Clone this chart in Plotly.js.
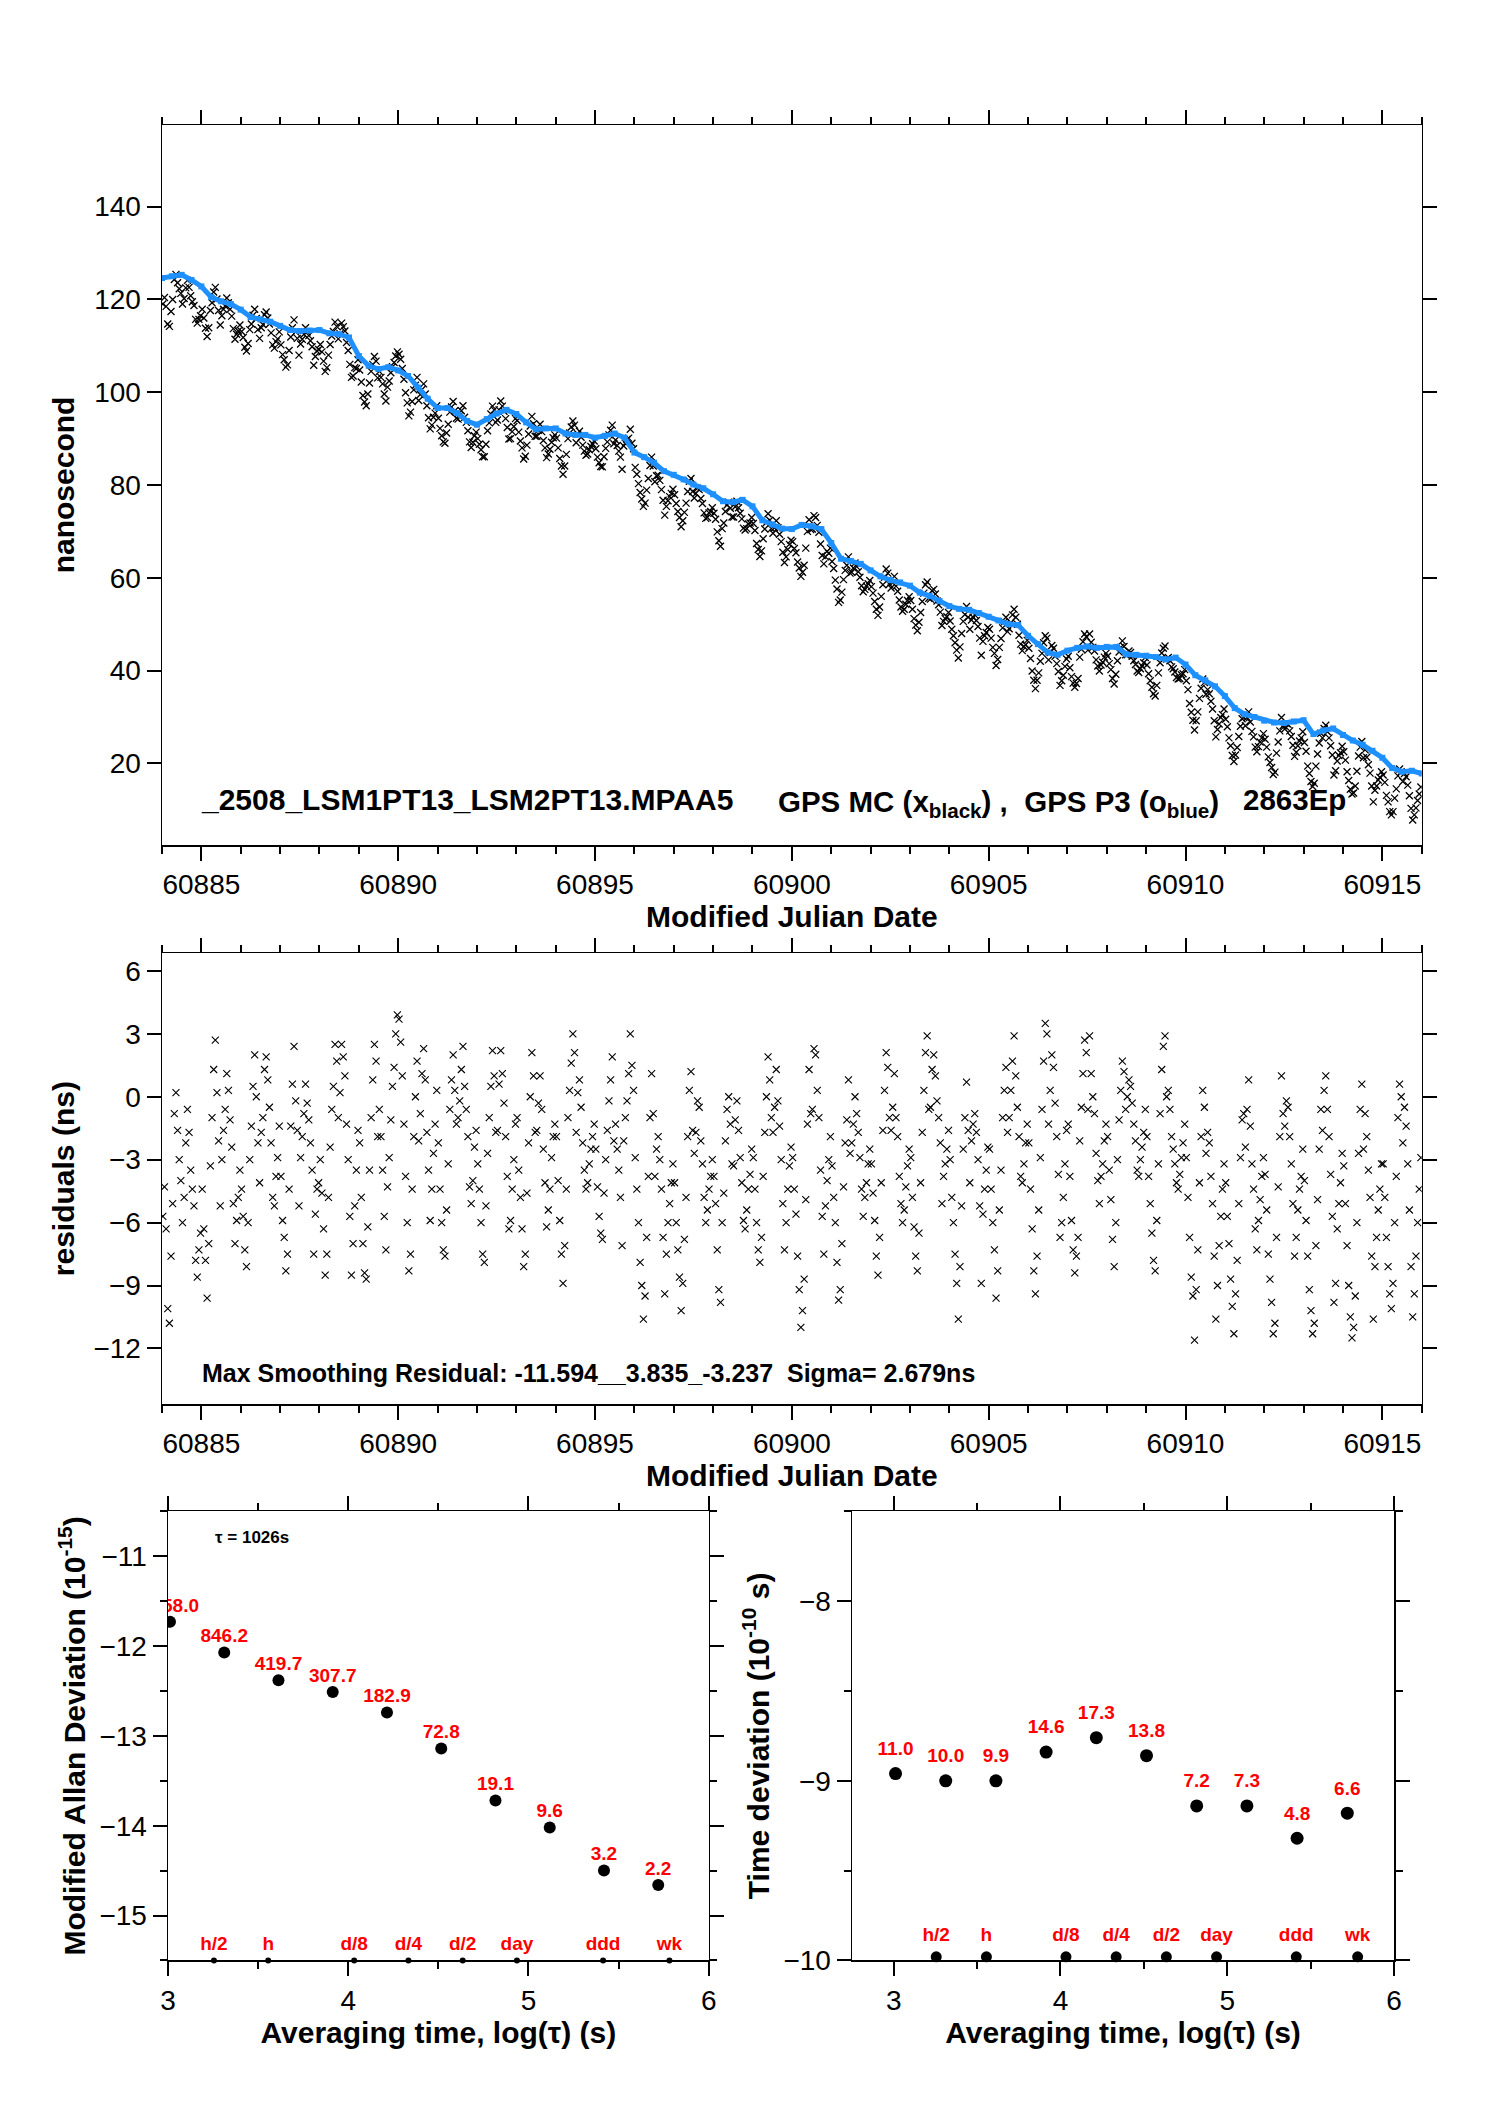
<!DOCTYPE html>
<html><head><meta charset="utf-8">
<script src="https://cdn.plot.ly/plotly-3.0.1.min.js"></script>
<style>html,body{margin:0;padding:0;background:#fff}#chart{width:1488px;height:2105px}</style>
</head><body><div id="chart"></div>
<script>
// ---------------- data ----------------
const mjdStart = 60884;
// GPS P3 (blue), one reading every 0.25 day from MJD 60884.0
const blueStepDay = 0.25;
const blueY = [124.6,125.0,125.3,124.2,122.8,120.5,119.6,119.0,117.8,116.2,115.7,115.2,114.3,113.4,113.2,113.3,
113.4,112.7,112.5,111.8,107.8,105.7,105.0,105.4,104.7,103.5,101.0,98.6,96.6,96.6,95.5,93.8,
93.0,94.2,95.4,96.2,95.3,93.5,92.0,92.2,92.2,91.1,90.8,90.8,90.2,90.6,91.1,90.2,
87.0,86.0,84.8,83.0,82.2,81.2,80.1,79.3,78.0,76.5,76.3,76.8,75.4,72.4,71.5,70.6,
70.5,71.4,71.1,70.5,67.5,64.1,63.6,63.0,61.6,60.3,59.5,59.0,58.3,56.8,56.1,55.0,
53.9,53.3,53.1,52.4,51.6,50.8,50.0,49.8,47.5,45.7,43.9,43.4,44.3,44.9,45.2,44.9,
45.1,45.1,43.5,43.4,43.2,42.9,42.4,42.8,41.3,39.0,37.9,36.6,34.5,31.9,30.6,30.0,
29.2,28.8,28.7,29.0,29.3,26.3,27.1,27.5,26.1,24.9,24.0,22.7,21.2,19.0,18.2,18.4,17.8];
// GPS MC (black), 24 epochs per day from MJD 60884.0 (12 per row = half a day)
const blackPerDay = 24;
const blackY = [
119.0,120.4,118.5,114.7,114.2,117.4,120.0,124.3,125.4,123.6,122.3,121.3,
119.0,120.2,122.5,124.1,122.6,120.8,119.5,118.7,115.7,114.9,115.7,116.5,
117.9,116.0,113.8,112.0,113.9,117.6,119.3,121.6,122.6,120.1,117.6,114.5,
116.5,117.9,118.6,120.3,119.3,117.9,116.4,113.7,111.4,112.5,113.2,114.5,
113.1,111.8,109.7,108.9,110.5,113.5,114.7,116.6,117.9,115.9,113.5,111.6,
113.9,114.6,116.7,117.3,116.0,114.7,112.8,110.2,109.5,110.9,111.5,113.0,
110.2,108.1,107.0,105.4,105.9,109.0,111.9,113.9,115.6,113.0,111.6,108.0,
110.4,111.4,112.5,113.9,113.0,112.2,111.1,109.8,105.8,107.7,108.9,109.2,
110.3,108.7,106.7,104.5,105.3,108.0,110.3,112.1,113.1,115.1,114.2,111.5,
112.6,114.9,114.1,113.2,110.7,109.0,106.0,103.2,103.5,105.3,105.1,107.0,
104.8,102.2,99.3,97.9,97.1,99.6,102.0,104.5,106.0,107.7,106.7,103.1,
104.5,103.2,101.8,99.6,98.1,101.1,102.4,104.2,105.5,106.4,107.8,108.7,
108.2,107.1,105.1,102.8,99.9,97.7,94.9,95.7,98.0,100.5,101.5,103.2,
98.2,99.5,100.6,101.8,99.6,97.1,94.5,92.1,92.9,94.6,95.5,97.1,
94.4,92.2,90.6,89.3,89.0,91.2,93.1,95.7,96.8,98.0,96.0,94.4,
94.2,95.0,96.0,97.1,94.6,93.5,91.7,89.3,88.1,89.2,90.6,91.4,
90.0,88.8,87.6,86.1,86.1,88.8,91.7,93.4,95.3,97.0,96.2,93.5,
94.0,96.2,98.1,97.0,95.9,94.3,92.4,89.9,90.0,91.5,92.6,94.3,
93.9,91.4,89.5,88.0,85.6,86.2,88.6,91.0,92.7,94.8,93.2,90.5,
90.5,91.8,93.1,91.5,89.6,88.0,85.9,86.7,87.7,89.2,90.2,90.8,
90.1,88.0,85.7,84.1,82.3,84.1,86.6,90.0,91.2,92.5,93.8,92.9,
89.1,91.0,91.6,90.3,88.6,87.3,86.4,86.7,87.6,88.3,88.9,89.5,
87.8,86.0,84.8,84.0,83.9,86.1,87.9,89.3,90.8,91.8,92.9,88.9,
89.7,88.5,87.3,86.0,83.4,88.4,89.0,89.8,90.1,92.0,89.0,87.8,
83.8,82.3,80.3,78.4,77.0,75.4,76.1,78.9,81.4,84.2,86.0,84.1,
80.7,82.0,82.1,81.0,79.0,76.7,73.5,75.4,76.6,77.5,78.2,79.1,
77.9,76.0,74.3,73.0,71.0,72.3,74.1,76.1,78.6,80.8,81.4,78.6,
77.2,78.2,79.3,79.0,77.1,76.0,74.0,72.8,73.0,74.0,74.3,75.1,
73.9,72.6,69.9,68.0,66.8,70.6,71.8,74.3,75.7,76.3,75.0,73.1,
73.1,75.3,76.5,75.1,73.9,72.7,70.7,70.3,70.6,71.6,71.8,73.0,
71.7,70.2,67.4,66.1,64.6,65.8,68.4,70.5,71.9,73.8,72.4,70.6,
69.6,70.8,72.3,70.8,69.4,67.8,65.5,63.3,64.5,66.1,67.2,68.1,
67.8,66.3,65.4,63.4,62.1,60.3,61.2,62.7,66.4,70.0,72.5,70.4,
70.5,73.4,73.0,71.3,69.8,67.3,64.8,63.0,64.5,65.7,65.3,66.4,
63.5,62.0,59.5,57.6,54.7,55.2,56.9,59.6,61.6,62.7,64.5,61.0,
61.2,62.1,63.2,62.4,61.3,60.1,58.3,57.0,57.5,58.2,58.7,59.4,
58.1,56.7,54.9,53.2,51.9,53.7,56.0,58.5,60.1,61.9,61.0,58.6,
57.8,58.9,60.3,58.2,57.1,55.2,53.7,52.8,53.2,54.3,55.1,55.9,
55.1,53.2,51.2,49.8,48.6,50.4,52.5,54.9,56.7,58.5,59.1,55.6,
55.4,57.2,57.5,56.5,55.0,54.2,52.6,49.7,50.6,51.2,51.6,52.5,
50.7,48.9,47.5,46.0,44.4,42.7,45.1,48.0,50.6,52.1,53.8,51.5,
48.9,50.9,51.5,52.0,50.8,49.5,47.0,43.3,46.3,47.5,48.2,49.3,
48.9,47.0,45.0,43.7,41.1,42.4,45.0,46.9,49.2,50.5,51.5,48.4,
49.0,50.3,52.0,53.2,51.5,50.0,47.6,45.7,44.3,45.2,45.6,46.5,
44.8,42.6,39.9,37.9,36.1,37.9,39.5,42.0,43.7,46.0,47.5,47.0,
42.3,43.9,45.4,44.8,43.1,41.5,39.8,36.8,37.8,39.0,40.9,42.5,
43.1,40.6,38.7,37.3,36.4,37.2,38.3,42.9,44.6,46.2,47.9,47.3,
44.4,47.9,46.1,45.0,44.2,42.3,41.0,39.9,41.2,41.8,42.9,43.7,
43.1,41.5,40.2,38.3,37.1,39.2,42.1,44.0,45.0,46.4,45.2,43.4,
43.4,44.2,43.9,43.1,42.1,41.3,39.9,39.6,40.4,41.0,41.7,42.8,
41.2,39.3,37.8,36.4,35.0,34.5,36.8,39.5,41.7,43.8,44.8,45.3,
42.5,42.8,42.1,40.8,40.4,39.7,38.5,38.2,38.3,39.1,39.3,40.2,
37.8,35.9,32.9,31.0,29.3,27.2,29.2,31.1,34.0,36.2,38.2,37.4,
34.9,35.9,35.0,33.4,31.7,29.2,25.7,27.3,28.5,29.9,30.5,31.7,
29.5,27.9,25.5,23.8,21.7,20.4,21.8,23.4,25.8,28.0,29.6,29.9,
28.1,29.9,31.1,28.9,26.9,25.7,23.5,22.5,23.6,24.6,25.5,26.4,
25.2,23.5,21.4,20.2,19.1,17.6,18.1,22.2,24.6,27.0,29.9,28.1,
27.4,28.6,28.4,27.0,25.8,23.9,21.5,22.4,23.8,24.8,25.5,26.8,
24.5,22.6,19.4,17.8,16.1,15.0,15.7,19.4,22.0,24.4,26.5,25.5,
27.5,28.2,26.8,25.5,23.8,21.8,17.5,18.4,20.5,21.7,22.3,23.7,
22.5,20.7,18.2,16.3,14.4,13.4,13.6,15.1,18.3,21.6,23.5,24.7,
21.2,22.9,21.3,19.7,17.9,15.1,11.7,14.2,15.1,16.4,17.0,18.2,
17.5,15.9,13.1,11.7,9.6,8.9,9.6,12.5,14.5,17.3,18.8,18.2,
16.1,17.8,17.1,15.3,13.0,10.3,7.8,8.9,10.4,12.0,13.4,14.9];
// smoothing residuals (ns), 24 epochs per day from MJD 60884.0
const residPerDay = 24;
const residY = [
-5.7,-4.3,-6.3,-10.1,-10.8,-7.6,-5.1,-0.8,0.2,-1.6,-3.0,-4.0,
-6.0,-4.8,-2.2,-0.6,-1.7,-3.5,-4.4,-5.2,-7.8,-8.6,-7.3,-6.5,
-4.4,-6.3,-7.8,-9.6,-7.0,-3.3,-1.0,1.3,2.7,0.2,-2.1,-5.2,
-3.0,-1.6,-0.6,1.1,0.3,-1.1,-2.4,-5.1,-7.0,-5.9,-4.8,-3.5,
-4.4,-5.7,-7.3,-8.1,-6.0,-3.0,-1.4,0.5,2.0,0.0,-2.2,-4.1,
-1.7,-1.0,1.3,1.9,0.8,-0.5,-2.2,-4.8,-5.2,-3.8,-2.9,-1.4,
-3.8,-5.9,-6.7,-8.3,-7.5,-4.4,-1.4,0.6,2.4,-0.2,-1.6,-5.2,
-2.9,-1.9,-0.8,0.6,-0.3,-1.1,-2.2,-3.5,-7.5,-5.6,-4.4,-4.1,
-3.0,-4.6,-6.3,-8.5,-7.5,-4.8,-2.4,-0.6,0.5,2.5,1.7,-1.0,
0.2,2.5,1.9,1.0,-1.3,-3.0,-5.7,-8.5,-7.0,-5.2,-3.5,-1.6,
-2.2,-4.8,-7.0,-8.4,-8.7,-6.2,-3.5,-1.0,0.8,2.5,1.7,-1.9,
-0.6,-1.9,-3.5,-5.7,-7.3,-4.3,-2.9,-1.1,0.5,1.4,3.0,3.9,
3.7,2.6,1.0,-1.3,-3.8,-6.0,-8.3,-7.5,-4.4,-1.9,0.0,1.7,
-2.1,-0.8,1.1,2.3,0.8,-1.7,-3.5,-5.9,-4.4,-2.7,-1.3,0.3,
-2.2,-4.4,-6.0,-7.3,-7.6,-5.4,-3.2,-0.6,0.8,2.0,0.3,-1.3,
-1.0,-0.2,1.3,2.4,0.5,-0.6,-1.9,-4.3,-5.1,-4.0,-2.4,-1.6,
-3.2,-4.4,-6.0,-7.5,-7.9,-5.2,-2.7,-1.0,0.5,2.2,1.0,-1.7,
-1.6,0.6,2.2,1.1,-0.3,-1.9,-3.8,-6.3,-5.9,-4.4,-3.0,-1.3,
-1.0,-3.5,-4.8,-6.3,-8.1,-7.5,-4.6,-2.2,0.0,2.1,1.0,-1.7,
-1.6,-0.3,1.0,-0.6,-2.5,-4.1,-6.2,-5.4,-4.4,-2.9,-1.9,-1.3,
-1.9,-4.0,-5.9,-7.5,-8.9,-7.1,-4.4,-1.0,0.3,1.6,3.0,2.1,
-1.7,0.2,0.8,-0.5,-2.2,-3.5,-4.4,-4.1,-3.2,-2.5,-1.9,-1.3,
-2.5,-4.3,-5.7,-6.5,-6.8,-4.6,-3.0,-1.6,-0.2,0.8,1.9,-2.1,
-1.3,-2.5,-3.5,-4.8,-7.1,-2.1,-1.0,-0.2,1.1,3.0,1.5,0.3,
-2.9,-4.4,-6.0,-7.9,-9.0,-10.6,-9.5,-6.7,-3.8,-1.0,1.1,-0.8,
-3.8,-2.5,-1.9,-3.0,-4.4,-6.7,-9.4,-7.5,-6.0,-5.1,-4.1,-3.2,
-4.1,-6.0,-7.3,-8.6,-10.2,-8.9,-6.8,-4.8,-1.9,0.3,1.2,-1.6,
-2.7,-1.7,-0.2,-0.5,-2.1,-3.2,-4.8,-6.0,-5.4,-4.4,-3.8,-3.0,
-3.8,-5.1,-7.3,-9.2,-9.8,-6.0,-4.6,-2.1,-0.6,0.0,-1.3,-3.2,
-3.3,-1.1,-0.2,-1.6,-2.9,-4.1,-5.9,-6.3,-5.4,-4.4,-3.7,-2.5,
-2.9,-4.4,-6.0,-7.3,-7.9,-6.7,-3.8,-1.7,0.0,1.9,0.8,-1.0,
-1.7,-0.5,1.3,-0.2,-1.4,-3.0,-5.1,-7.3,-6.0,-4.4,-3.3,-2.4,
-2.9,-4.4,-5.6,-7.6,-9.2,-11.0,-10.2,-8.7,-4.9,-1.3,1.3,-0.8,
-0.6,2.3,2.0,0.3,-1.0,-3.5,-5.7,-7.5,-5.2,-4.0,-3.0,-1.9,
-3.3,-4.8,-6.0,-7.9,-9.7,-9.2,-7.0,-4.3,-2.2,-1.1,0.8,-2.7,
-2.2,-1.3,0.0,-0.8,-1.7,-2.9,-4.4,-5.7,-4.8,-4.1,-3.2,-2.5,
-3.2,-4.6,-5.9,-7.6,-8.5,-6.7,-4.1,-1.6,0.3,2.1,1.4,-1.0,
-1.6,-0.5,1.1,-1.0,-1.9,-3.8,-5.1,-6.0,-5.4,-4.3,-3.3,-2.5,
-2.9,-4.8,-6.2,-7.6,-8.3,-6.5,-4.1,-1.7,0.3,2.1,2.9,-0.6,
-0.5,1.3,2.0,1.0,-0.2,-1.0,-2.2,-5.1,-3.8,-3.2,-2.5,-1.6,
-3.0,-4.8,-6.0,-7.5,-8.9,-10.6,-8.1,-5.2,-2.5,-1.0,0.7,-1.6,
-4.1,-2.1,-1.3,-0.8,-1.7,-3.0,-5.2,-8.9,-5.6,-4.4,-3.5,-2.4,
-2.5,-4.4,-6.0,-7.3,-9.6,-8.3,-5.4,-3.5,-1.0,0.3,1.4,-1.7,
-1.0,0.3,1.7,2.9,1.0,-0.5,-1.9,-3.8,-4.1,-3.2,-2.2,-1.3,
-2.2,-4.4,-6.3,-8.3,-9.4,-7.6,-5.4,-2.9,-0.6,1.7,3.5,3.0,
-1.3,0.3,2.0,1.4,-0.3,-1.9,-3.7,-6.7,-6.0,-4.8,-3.2,-1.6,
-1.3,-3.8,-5.9,-7.3,-8.4,-7.6,-6.7,-2.1,-0.5,1.1,2.7,2.1,
-0.6,2.9,1.1,0.0,-0.8,-2.7,-4.0,-5.1,-3.8,-3.2,-2.1,-1.3,
-1.9,-3.5,-4.9,-6.8,-8.1,-6.0,-3.0,-1.1,0.3,1.7,1.2,-0.6,
0.0,0.8,0.5,-0.3,-1.3,-2.1,-3.5,-3.8,-3.0,-2.4,-1.7,-0.6,
-1.9,-3.8,-5.1,-6.5,-7.8,-8.3,-5.9,-3.2,-0.8,1.3,2.4,2.9,
0.0,0.3,-0.6,-1.9,-2.5,-3.2,-4.1,-4.4,-3.7,-2.9,-2.2,-1.3,
-2.9,-4.8,-6.7,-8.6,-9.5,-11.6,-9.2,-7.3,-4.1,-1.9,0.3,-0.5,
-2.7,-1.7,-2.2,-3.8,-5.1,-7.6,-10.6,-9.0,-7.1,-5.7,-4.4,-3.2,
-4.1,-5.7,-7.0,-8.7,-10.0,-11.3,-9.4,-7.8,-5.1,-2.9,-1.1,-0.8,
-2.4,-0.6,0.8,-1.4,-3.2,-4.4,-6.3,-7.3,-5.9,-4.9,-3.8,-2.9,
-3.7,-5.4,-7.5,-8.7,-9.8,-11.3,-10.8,-6.7,-4.3,-1.9,1.0,-0.8,
-1.4,-0.2,-0.5,-1.9,-3.2,-5.1,-7.6,-6.7,-5.4,-4.4,-3.8,-2.5,
-4.0,-5.9,-7.6,-9.2,-10.2,-11.3,-10.8,-7.1,-4.9,-2.5,-0.6,-1.6,
0.3,1.0,-0.6,-1.9,-3.7,-5.7,-9.8,-8.9,-6.3,-5.1,-4.1,-2.7,
-3.3,-5.1,-7.1,-9.0,-10.5,-11.5,-11.0,-9.5,-6.0,-2.7,-0.6,0.6,
-2.5,-0.8,-1.9,-3.5,-4.8,-7.6,-10.6,-8.1,-6.7,-5.4,-4.4,-3.2,
-3.2,-4.8,-6.7,-8.1,-9.4,-10.1,-8.9,-6.0,-3.8,-1.0,0.6,0.0,
-2.2,-0.5,-1.4,-3.2,-5.4,-8.1,-10.5,-9.4,-7.6,-6.0,-4.4,-2.9];
// stability panels
const logTau = [3.011,3.312,3.613,3.914,4.215,4.516,4.817,5.118,5.419,5.720];
const madevLog = [-11.73,-12.07,-12.38,-12.51,-12.74,-13.14,-13.72,-14.02,-14.50,-14.66];
const madevLabels = ['1858.0','846.2','419.7','307.7','182.9','72.8','19.1','9.6','3.2','2.2'];
const tdevLog = [-8.96,-9.00,-9.00,-8.84,-8.76,-8.86,-9.14,-9.14,-9.32,-9.18];
const tdevLabels = ['11.0','10.0','9.9','14.6','17.3','13.8','7.2','7.3','4.8','6.6'];
const markTau = [3.255,3.556,4.033,4.334,4.635,4.936,5.414,5.782];
const markLabels = ['h/2','h','d/8','d/4','d/2','day','ddd','wk'];

// ---------------- drawing ----------------
const FONT = 'Liberation Sans, Arial, Helvetica, sans-serif';
const blueX = blueY.map((_, i) => mjdStart + i * blueStepDay);
const blackX = blackY.map((_, i) => mjdStart + (i + 0.5) / blackPerDay);
const residX = residY.map((_, i) => mjdStart + (i + 0.5) / residPerDay);
const madevFloor = -15.5, tdevFloor = -10;

const redText = {family: FONT, size: 19, color: '#ff0000', weight: 'bold'};
const traces = [
  {x: blackX, y: blackY, xaxis: 'x', yaxis: 'y', mode: 'markers', type: 'scatter',
   marker: {symbol: 'x-thin-open', size: 7, color: '#000', line: {width: 1.3, color: '#000'}}},
  {x: blueX, y: blueY, xaxis: 'x', yaxis: 'y', mode: 'lines+markers', type: 'scatter',
   line: {color: '#1E90FF', width: 5}, marker: {symbol: 'square', size: 6, color: '#1E90FF'}},
  {x: residX, y: residY, xaxis: 'x2', yaxis: 'y2', mode: 'markers', type: 'scatter',
   marker: {symbol: 'x-thin-open', size: 7, color: '#000', line: {width: 1.1, color: '#000'}}},
  {x: logTau, y: madevLog, xaxis: 'x3', yaxis: 'y3', mode: 'markers', type: 'scatter',
   marker: {symbol: 'circle', size: 12, color: '#000'}},
  {x: logTau, y: madevLog.map(v => v + 0.167), text: madevLabels, xaxis: 'x3', yaxis: 'y3',
   mode: 'text', type: 'scatter', textfont: redText, textposition: 'middle center', cliponaxis: true},
  {x: markTau, y: markTau.map(() => madevFloor), xaxis: 'x3', yaxis: 'y3', mode: 'markers', type: 'scatter',
   marker: {symbol: 'circle', size: 6, color: '#000'}, cliponaxis: false},
  {x: markTau, y: markTau.map(() => madevFloor + 0.166), text: markLabels, xaxis: 'x3', yaxis: 'y3',
   mode: 'text', type: 'scatter', textfont: redText, textposition: 'middle center'},
  {x: logTau, y: tdevLog, xaxis: 'x4', yaxis: 'y4', mode: 'markers', type: 'scatter',
   marker: {symbol: 'circle', size: 13, color: '#000'}},
  {x: logTau, y: tdevLog.map(v => v + 0.13), text: tdevLabels, xaxis: 'x4', yaxis: 'y4',
   mode: 'text', type: 'scatter', textfont: redText, textposition: 'middle center', cliponaxis: true},
  {x: markTau, y: markTau.map(() => tdevFloor + 0.02), xaxis: 'x4', yaxis: 'y4', mode: 'markers', type: 'scatter',
   marker: {symbol: 'circle', size: 11, color: '#000'}, cliponaxis: false},
  {x: markTau, y: markTau.map(() => tdevFloor + 0.132), text: markLabels, xaxis: 'x4', yaxis: 'y4',
   mode: 'text', type: 'scatter', textfont: redText, textposition: 'middle center'}
];

function ax(extra) {
  return Object.assign({
    showline: true, linecolor: '#000', linewidth: 1.5, mirror: 'allticks',
    ticks: 'outside', ticklen: 14, tickwidth: 2, tickcolor: '#000',
    showgrid: false, zeroline: false, automargin: false, fixedrange: true,
    tickfont: {family: FONT, size: 28, color: '#000'}
  }, extra);
}
function minor(d) { return {dtick: d, ticks: 'outside', ticklen: 7, tickwidth: 2, tickcolor: '#000', showgrid: false}; }
function title(t, standoff) { return {text: t, standoff: standoff, font: {family: FONT, size: 30, color: '#000', weight: 'bold'}}; }

const W = 1488, H = 2105;
const px = v => v / W, py = v => 1 - v / H;
const mainX = [px(162), px(1421.7)];

const layout = {
  width: W, height: H, margin: {l: 0, r: 0, t: 0, b: 0}, showlegend: false,
  paper_bgcolor: '#fff', plot_bgcolor: '#fff',
  xaxis: ax({domain: mainX, anchor: 'y', range: [60884, 60916], tick0: 60885, dtick: 5, tickformat: 'd',
    minor: minor(1), title: title('Modified Julian Date', 2)}),
  yaxis: ax({domain: [py(845), py(125)], anchor: 'x', range: [2.4, 157.6], tick0: 0, dtick: 20,
    title: title('nanosecond', 10)}),
  xaxis2: ax({domain: mainX, anchor: 'y2', range: [60884, 60916], tick0: 60885, dtick: 5, tickformat: 'd',
    minor: minor(1), title: title('Modified Julian Date', 0)}),
  yaxis2: ax({domain: [py(1404), py(953.3)], anchor: 'x2', range: [-14.65, 6.84], tick0: 0, dtick: 3,
    title: title('residuals (ns)', 10)}),
  xaxis3: ax({domain: [px(168), px(708.7)], anchor: 'y3', range: [3, 6], tick0: 3, dtick: 1,
    minor: minor(0.5), title: title('Averaging time, log(\u03c4) (s)', 2)}),
  yaxis3: ax({domain: [py(1960.4), py(1511.4)], anchor: 'x3', range: [-15.5, -10.5], tick0: -15, dtick: 1,
    minor: minor(0.5), title: title('Modified Allan Deviation (10<sup>-15</sup>)', 5)}),
  xaxis4: ax({domain: [px(852), px(1394)], anchor: 'y4', range: [2.75, 6], tick0: 3, dtick: 1,
    minor: minor(0.5), title: title('Averaging time, log(\u03c4) (s)', 2)}),
  yaxis4: ax({domain: [py(1960.4), py(1511.4)], anchor: 'x4', range: [-10, -7.5], tick0: -10, dtick: 1,
    minor: minor(0.5), title: title('Time deviation (10<sup>-10</sup> s)', 5)}),
  annotations: [
    {xref: 'paper', yref: 'paper', x: px(199), y: py(799), xanchor: 'left', yanchor: 'middle', showarrow: false,
     text: '_2508_LSM1PT13_LSM2PT13.MPAA5', font: {family: FONT, size: 30, color: '#000', weight: 'bold'}},
    {xref: 'paper', yref: 'paper', x: px(776), y: py(803), xanchor: 'left', yanchor: 'middle', showarrow: false,
     text: 'GPS MC (x<sub>black</sub>) ,\u00a0\u00a0GPS P3 (o<sub>blue</sub>)', font: {family: FONT, size: 29.5, color: '#000', weight: 'bold'}},
    {xref: 'paper', yref: 'paper', x: px(1241), y: py(799), xanchor: 'left', yanchor: 'middle', showarrow: false,
     text: '2863Ep', font: {family: FONT, size: 29.5, color: '#000', weight: 'bold'}},
    {xref: 'paper', yref: 'paper', x: px(200), y: py(1373), xanchor: 'left', yanchor: 'middle', showarrow: false,
     text: 'Max Smoothing Residual: -11.594__3.835_-3.237\u00a0\u00a0Sigma= 2.679ns', font: {family: FONT, size: 25, color: '#000', weight: 'bold'}},
    {xref: 'paper', yref: 'paper', x: px(213), y: py(1537), xanchor: 'left', yanchor: 'middle', showarrow: false,
     text: '\u03c4 = 1026s', font: {family: FONT, size: 17, color: '#000', weight: 'bold'}}
  ]
};

Plotly.newPlot('chart', traces, layout, {staticPlot: true, displayModeBar: false});
</script>
</body></html>
